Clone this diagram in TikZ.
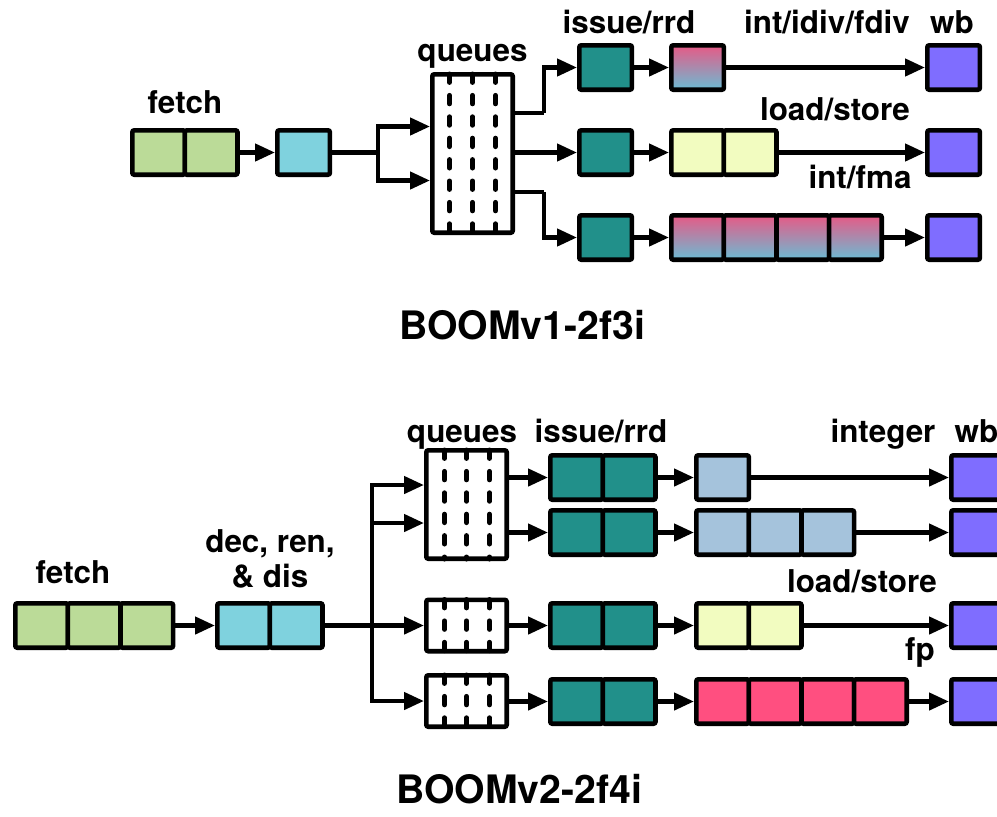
\documentclass[tikz,border=0pt]{standalone}
\usepackage{fontspec}
\setmainfont{TeX Gyre Heros}
\usetikzlibrary{positioning}
\usetikzlibrary{calc}
\usetikzlibrary{arrows.meta}
\definecolor{fetchgreen}{HTML}{BBDB98}
\definecolor{decblue}{HTML}{7FD2DE}
\definecolor{issueteal}{HTML}{21908A}
\definecolor{intblue}{HTML}{A5C3DC}
\definecolor{memyellow}{HTML}{F2FCC0}
\definecolor{fppink}{HTML}{FF4F80}
\definecolor{mixtop}{HTML}{E65A86}
\definecolor{mixbot}{HTML}{6BBCD4}
\definecolor{wbpurple}{HTML}{7F6DFF}
\tikzset{
	stage/.style={draw, line width=2.3pt, rounded corners=1pt, inner sep=0pt, minimum width=26.3pt, minimum height=22.2pt},
	fetchcell/.style={stage, fill=fetchgreen},
	deccell/.style={stage, fill=decblue},
	issuecell/.style={stage, fill=issueteal},
	alucell/.style={stage, fill=intblue},
	memcell/.style={stage, fill=memyellow},
	fpcell/.style={stage, fill=fppink},
	mixcell/.style={stage, top color=mixtop, bottom color=mixbot},
	wbcell/.style={stage, fill=wbpurple},
	queue/.style={draw, line width=2.3pt, rounded corners=1pt, fill=white, inner sep=0pt, minimum width=40.2pt},
	slot/.style={line width=2.5pt, line cap=round, dash pattern=on 4.2pt off 6.5pt},
	lbl/.style={font=\fontsize{15.7}{17.5}\selectfont\bfseries, inner sep=0pt, anchor=base},
	ttl/.style={font=\fontsize{19.6}{22}\selectfont\bfseries, inner sep=0pt, anchor=base},
}

\begin{document}
\begin{tikzpicture}[x=0.5pt, y=-0.5pt, node distance=26.3pt]
	\useasboundingbox (0,0) rectangle (997,816);
	\clip (0,0) rectangle (997,816);
	
	% BOOMv1
	\node (f1) [fetchcell] at (158.6,152.5) {};
	\node (f2) [fetchcell, right of=f1] {};
	\node (dec) [deccell] at (303.6,152.5) {};
	\coordinate (j1) at (378,152.5);
	
	\node (q) [queue, minimum height=79.2pt] at (472.5,153.5) {};
	\foreach \dx in {-23,0,23}
		\draw[slot] ($(q.north)+(\dx,2)$) -- ($(q.south)+(\dx,-2)$);
	\coordinate (k1) at (544,113);
	\coordinate (k3) at (544,192);
	
	\node (iss1) [issuecell] at (605.6,67.5) {};
	\node (iss2) [issuecell] at (605.6,152.5) {};
	\node (iss3) [issuecell] at (605.6,237.5) {};
	
	\node (alu) [mixcell] at (697.6,67.5) {};
	\node (ls1) [memcell] at (697.6,152.5) {};
	\node (ls2) [memcell, right of=ls1] {};
	\node (fma1) [mixcell] at (697.6,237.5) {};
	\node (fma2) [mixcell, right of=fma1] {};
	\node (fma3) [mixcell, right of=fma2] {};
	\node (fma4) [mixcell, right of=fma3] {};
	
	\node (wb1) [wbcell] at (953.6,67.5) {};
	\node (wb2) [wbcell] at (953.6,152.5) {};
	\node (wb3) [wbcell] at (953.6,237.5) {};
	
	\node (lf) [lbl] at (185,113) {fetch};
	\node (lq) [lbl] at (472.5,61) {queues};
	\node (li) [lbl] at (629,33) {issue/rrd};
	\node (la) [lbl] at (827,33) {int/idiv/fdiv};
	\node (lw) [lbl] at (952,33) {wb};
	\node (ll) [lbl] at (835,120) {load/store};
	\node (lm) [lbl] at (860,188) {int/fma};
	\node (t1) [ttl] at (522,339) {BOOMv1-2f3i};
	
	\begin{scope}[line width=2.2pt, >={Triangle[length=10pt,width=8.5pt]}]
		\draw[->] (f2) -- (dec);
		\draw (dec) -- (j1);
		\draw[->] (j1) |- ($(q.west)+(0,-27)$);
		\draw[->] (j1) |- ($(q.west)+(0,27)$);
		
		\draw ($(q.east)+(0,-40.5)$) -- (k1);
		\draw[->] (k1) |- (iss1);
		\draw[->] (q.east |- iss2) -- (iss2);
		\draw ($(q.east)+(0,38.5)$) -- (k3);
		\draw[->] (k3) |- (iss3);
		
		\draw[->] (iss1) -- (alu);
		\draw[->] (alu) -- (wb1);
		\draw[->] (iss2) -- (ls1);
		\draw[->] (ls2) -- (wb2);
		\draw[->] (iss3) -- (fma1);
		\draw[->] (fma4) -- (wb3);
	\end{scope}
	
	% BOOMv2
	\node (nf1) [fetchcell] at (41.6,625.5) {};
	\node (nf2) [fetchcell, right of=nf1] {};
	\node (nf3) [fetchcell, right of=nf2] {};
	\node (nd1) [deccell] at (243.6,625.5) {};
	\node (nd2) [deccell, right of=nd1] {};
	\coordinate (j2) at (372,625.5);
	
	\node (nq1) [queue, minimum height=54.2pt] at (466.5,504.5) {};
	\node (nq2) [queue, minimum height=25.7pt] at (466.5,625.5) {};
	\node (nq3) [queue, minimum height=25.7pt] at (466.5,701) {};
	\foreach \qq in {nq1,nq2,nq3}
		\foreach \dx in {-22,0,23}
			\draw[slot] ($(\qq.north)+(\dx,2)$) -- ($(\qq.south)+(\dx,-2)$);
	
	\node (ni1a) [issuecell] at (576.6,477.5) {};
	\node (ni1b) [issuecell, right of=ni1a] {};
	\node (ni2a) [issuecell] at (576.6,532.5) {};
	\node (ni2b) [issuecell, right of=ni2a] {};
	\node (ni3a) [issuecell] at (576.6,625.5) {};
	\node (ni3b) [issuecell, right of=ni3a] {};
	\node (ni4a) [issuecell] at (576.6,701.5) {};
	\node (ni4b) [issuecell, right of=ni4a] {};
	
	\node (nalu) [alucell] at (722.6,477.5) {};
	\node (nmul1) [alucell] at (722.6,532.5) {};
	\node (nmul2) [alucell, right of=nmul1] {};
	\node (nmul3) [alucell, right of=nmul2] {};
	\node (nls1) [memcell] at (722.6,625.5) {};
	\node (nls2) [memcell, right of=nls1] {};
	\node (nfp1) [fpcell] at (722.6,701.5) {};
	\node (nfp2) [fpcell, right of=nfp1] {};
	\node (nfp3) [fpcell, right of=nfp2] {};
	\node (nfp4) [fpcell, right of=nfp3] {};
	
	\node (nwb1) [wbcell] at (977.6,477.5) {};
	\node (nwb2) [wbcell] at (977.6,532.5) {};
	\node (nwb3) [wbcell] at (977.6,625.5) {};
	\node (nwb4) [wbcell] at (977.6,701.5) {};
	
	\node (nlf) [lbl] at (73,583) {fetch};
	\node (nld) [lbl, align=center] at (270,587) {dec, ren,\\\& dis};
	\node (nlq) [lbl] at (462,442) {queues};
	\node (nli) [lbl] at (601,442) {issue/rrd};
	\node (nla) [lbl] at (883,442) {integer};
	\node (nlw) [lbl] at (976.5,442) {wb};
	\node (nll) [lbl] at (862,592) {load/store};
	\node (nlp) [lbl] at (920,660) {fp};
	\node (t2) [ttl] at (519,803) {BOOMv2-2f4i};
	
	\begin{scope}[line width=2.2pt, >={Triangle[length=10pt,width=8.5pt]}]
		\draw[->] (nf3) -- (nd1);
		\draw (nd2) -- (j2);
		\draw[->] (j2) |- ($(nq1.west)+(0,-19.5)$);
		\draw[->] (j2) |- ($(nq1.west)+(0,18.5)$);
		\draw[->] (j2) -- (nq2);
		\draw[->] (j2) |- (nq3);
		
		\draw[->] (nq1.east |- ni1a) -- (ni1a);
		\draw[->] (nq1.east |- ni2a) -- (ni2a);
		\draw[->] (nq2) -- (ni3a);
		\draw[->] (nq3.east |- ni4a) -- (ni4a);
		
		\draw[->] (ni1b) -- (nalu);
		\draw[->] (nalu) -- (nwb1);
		\draw[->] (ni2b) -- (nmul1);
		\draw[->] (nmul3) -- (nwb2);
		\draw[->] (ni3b) -- (nls1);
		\draw[->] (nls2) -- (nwb3);
		\draw[->] (ni4b) -- (nfp1);
		\draw[->] (nfp4) -- (nwb4);
	\end{scope}
	
\end{tikzpicture}
\end{document}
